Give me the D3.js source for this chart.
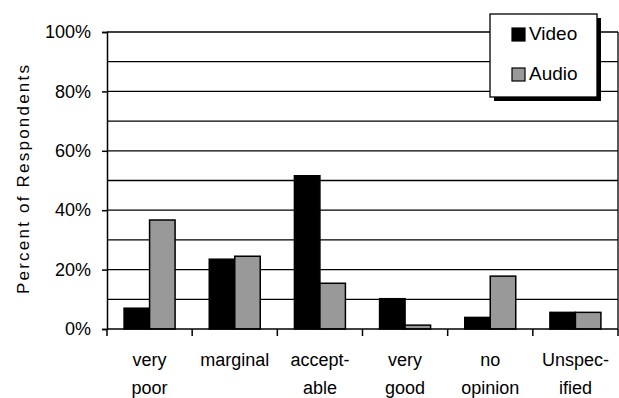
<!DOCTYPE html>
<html><head><meta charset="utf-8">
<script src="https://cdn.jsdelivr.net/npm/d3@7"></script>
<style>body{margin:0;background:#fff}svg{display:block;font-family:"Liberation Sans",Arial,sans-serif}</style>
</head><body><svg id="c" width="619" height="398"></svg>
<script>
const categories = [["very","poor"],["marginal"],["accept-","able"],["very","good"],["no","opinion"],["Unspec-","ified"]];
const seriesNames = ["Video","Audio"];
const videoValues = [7.0, 23.5, 51.6, 10.2, 3.9, 5.6];
const audioValues = [36.7, 24.5, 15.4, 1.3, 17.8, 5.6];
const yTicks = [0,20,40,60,80,100];
const yGrid = [10,20,30,40,50,60,70,80,90,100];
const colors = {Video:"#000000", Audio:"#999999"};

const svg = d3.select("#c");
const L=107, R=618, T=32, B=329;
const keys = categories.map((c,i)=>"c"+i);
const x = d3.scaleBand().domain(keys).range([L,R]).padding(0);
const x1 = d3.scaleBand().domain(seriesNames).range([0,x.bandwidth()]).paddingInner(0).paddingOuter(0.67);
const y = d3.scaleLinear().domain([0,100]).range([B,T]);

// gridlines
svg.append("g").selectAll("line").data(yGrid).join("line")
  .attr("x1",L).attr("x2",R).attr("y1",d=>y(d)).attr("y2",d=>y(d))
  .attr("stroke","#000").attr("stroke-width",1.3);
// right border
svg.append("line").attr("x1",R).attr("x2",R).attr("y1",T).attr("y2",B).attr("stroke","#000").attr("stroke-width",1.3);

// bars
const data = keys.map((k,i)=>({k, vals:[{s:"Video",v:videoValues[i]},{s:"Audio",v:audioValues[i]}]}));
svg.append("g").selectAll("g").data(data).join("g")
  .attr("transform",d=>`translate(${x(d.k)},0)`)
  .selectAll("rect").data(d=>d.vals).join("rect")
  .attr("x",d=>x1(d.s)).attr("width",x1.bandwidth())
  .attr("y",d=>y(d.v)).attr("height",d=>B-y(d.v))
  .attr("fill",d=>colors[d.s]).attr("stroke","#000").attr("stroke-width",1.5);

// y axis
const yAxis = svg.append("g").attr("transform",`translate(${L},0)`)
  .call(d3.axisLeft(y).tickValues(yTicks).tickFormat(d=>d+"%").tickSize(5).tickPadding(11));
yAxis.select(".domain").attr("stroke","#000").attr("stroke-width",1.5);
yAxis.selectAll(".tick line").attr("stroke-width",1.5);
yAxis.selectAll("text").attr("font-size",18).attr("font-family","Liberation Sans, Arial, sans-serif").attr("fill","#000");

// x axis (ticks at band edges)
const edges = keys.map(k=>x(k)).concat([R]);
svg.append("line").attr("x1",L).attr("x2",R).attr("y1",B).attr("y2",B).attr("stroke","#000").attr("stroke-width",1.5);
svg.append("g").selectAll("line").data(edges).join("line")
  .attr("x1",d=>d).attr("x2",d=>d).attr("y1",B).attr("y2",B+7).attr("stroke","#000").attr("stroke-width",1.5);
svg.append("g").selectAll("text").data(keys).join("text")
  .attr("x",d=>x(d)+x.bandwidth()/2).attr("y",366)
  .attr("text-anchor","middle").attr("font-size",18).attr("fill","#000")
  .each(function(d,i){
    const t=d3.select(this);
    categories[i].forEach((line,j)=>t.append("tspan").attr("x",x(d)+x.bandwidth()/2).attr("dy",j?28:0).text(line));
  });

// y title
svg.append("text").attr("transform","translate(29,179.5) rotate(-90)")
  .attr("text-anchor","middle").attr("font-size",17).attr("fill","#000")
  .attr("textLength",229).attr("lengthAdjust","spacing").text("Percent of Respondents");

// legend
const lg = svg.append("g");
lg.append("rect").attr("x",494).attr("y",18).attr("width",107).attr("height",83).attr("fill","#000");
lg.append("rect").attr("x",490).attr("y",14).attr("width",107).attr("height",83).attr("fill","#fff").attr("stroke","#000").attr("stroke-width",1.3);
const li = lg.selectAll("g.it").data(seriesNames).join("g").attr("class","it")
  .attr("transform",(d,i)=>`translate(0,${i*40})`);
li.append("rect").attr("x",512).attr("y",28).attr("width",13).attr("height",13)
  .attr("fill",d=>colors[d]).attr("stroke","#000").attr("stroke-width",1.2);
li.append("text").attr("x",529).attr("y",40).attr("font-size",19).attr("fill","#000").text(d=>d);
</script></body></html>
